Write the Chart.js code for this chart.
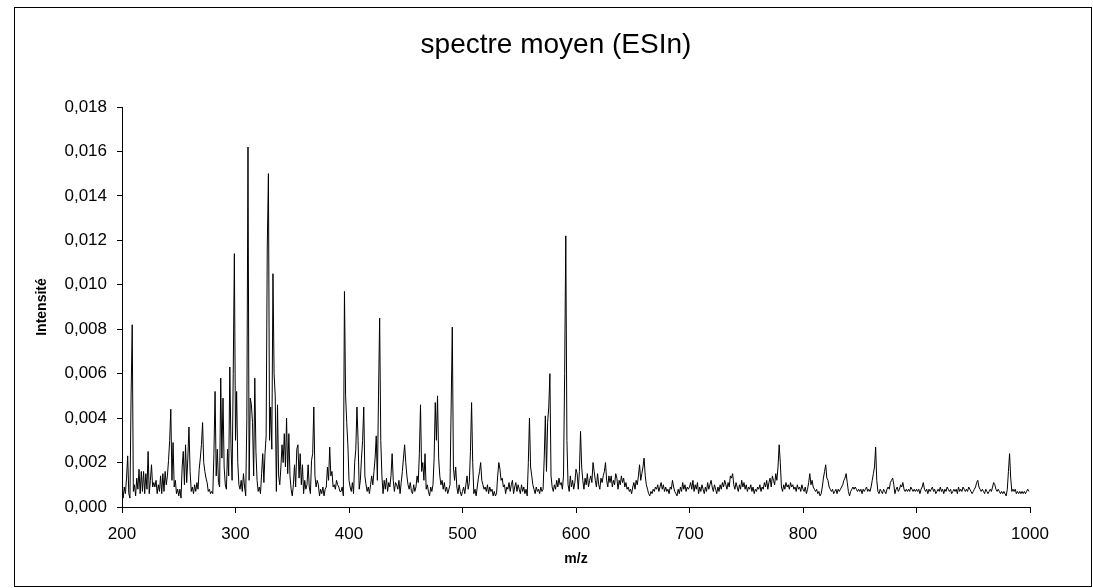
<!DOCTYPE html>
<html>
<head>
<meta charset="utf-8">
<script src="https://cdn.jsdelivr.net/npm/chart.js@4.4.0/dist/chart.umd.min.js"></script>
<style>
html,body{margin:0;padding:0;background:#ffffff;}
canvas{display:block;}
</style>
</head>
<body>
<canvas id="c" width="1093" height="588"></canvas>
<script>
const FONT = '"Liberation Sans", Arial, Helvetica, sans-serif';
const chartTitle = 'spectre moyen (ESIn)';
const xAxisTitle = 'm/z';
const yAxisTitle = 'Intensité';
const xTickValues = [200, 300, 400, 500, 600, 700, 800, 900, 1000];
const yTickValues = [0, 0.002, 0.004, 0.006, 0.008, 0.010, 0.012, 0.014, 0.016, 0.018];

// m/z grid: one value per unit, starting at 200
const mzStart = 200;
// intensities, in units of 0.0001
const unit = 0.0001;
const seg200 = [
  7, 4, 9, 6, 13, 23, 6, 4, 50, 82,
  7, 10, 5, 13, 8, 17, 6, 16, 7, 16,
  6, 15, 8, 25, 6, 12, 19, 9, 11, 9,
  12, 6, 10, 7, 14, 6, 15, 7, 16, 10,
  14, 21, 30, 44, 12, 29, 9, 12, 6, 8,
  5, 8, 4, 18, 25, 10, 28, 11, 22, 36,
  16, 7, 9, 6, 10, 7, 11, 8, 17, 22,
  28, 38, 20, 16, 13, 11, 7, 8, 6, 7,
  6, 24, 52, 14, 26, 11, 9, 58, 22, 49,
  18, 10, 8, 26, 14, 63, 28, 12, 60, 114
];
const seg300 = [
  30, 52, 20, 10, 8, 12, 7, 15, 9, 5,
  40, 162, 12, 49, 46, 38, 14, 58, 25, 12,
  7, 9, 6, 15, 24, 11, 24, 32, 117, 150,
  30, 45, 26, 105, 60, 50, 7, 46, 14, 10,
  18, 28, 20, 33, 18, 40, 15, 33, 14, 8,
  5, 10, 19, 9, 26, 28, 13, 24, 10, 19,
  6, 12, 8, 10, 19, 9, 6, 21, 24, 45,
  14, 9, 12, 10, 5, 8, 6, 9, 5, 8,
  9, 18, 12, 27, 14, 16, 9, 10, 8, 12,
  10, 9, 7, 7, 9, 5, 97, 50, 38, 28
];
const seg400 = [
  12, 9, 7, 11, 6, 20, 26, 45, 30, 8,
  12, 22, 30, 45, 14, 10, 7, 9, 6, 10,
  14, 10, 16, 22, 32, 12, 50, 85, 30, 14,
  6, 12, 8, 13, 7, 11, 9, 14, 24, 12,
  7, 11, 10, 8, 12, 6, 11, 16, 22, 28,
  20, 14, 10, 8, 11, 7, 6, 10, 7, 9,
  14, 11, 24, 46, 16, 20, 12, 24, 8, 10,
  7, 5, 9, 7, 10, 22, 47, 30, 50, 22,
  14, 10, 12, 8, 11, 7, 9, 6, 8, 10,
  45, 81, 18, 12, 18, 9, 6, 10, 7, 5
];
const seg500 = [
  7, 9, 6, 10, 14, 8, 11, 25, 47, 20,
  6, 8, 5, 9, 13, 16, 20, 12, 10, 8,
  9, 7, 10, 6, 9, 7, 8, 5, 7, 5,
  6, 14, 20, 17, 12, 13, 9, 10, 6, 9,
  8, 11, 7, 10, 12, 6, 9, 11, 7, 10,
  8, 6, 10, 7, 9, 6, 8, 5, 20, 40,
  18, 14, 10, 8, 6, 9, 7, 8, 6, 9,
  7, 8, 22, 41, 16, 38, 45, 60, 14, 9,
  7, 10, 8, 12, 9, 13, 10, 11, 8, 14,
  60, 122, 30, 10, 7, 14, 9, 12, 8, 11
];
const seg600 = [
  17, 15, 8, 16, 34, 18, 12, 8, 13, 10,
  15, 9, 12, 14, 11, 20, 16, 12, 9, 15,
  10, 8, 13, 11, 14, 16, 20, 12, 9, 14,
  11, 14, 9, 12, 10, 15, 13, 8, 12, 10,
  14, 11, 13, 9, 11, 8, 9, 7, 8, 6,
  9, 11, 8, 12, 10, 14, 19, 12, 15, 18,
  22, 14, 10, 8, 6, 5, 7, 6, 8, 7,
  9, 8, 10, 7, 9, 11, 8, 10, 7, 9,
  7, 8, 6, 9, 8, 12, 9, 7, 6, 5,
  8, 6, 9, 7, 11, 8, 10, 7, 9, 8
];
const seg700 = [
  9, 11, 8, 12, 7, 10, 8, 11, 6, 9,
  7, 10, 8, 6, 9, 7, 11, 8, 10, 12,
  9, 7, 10, 8, 6, 9, 7, 10, 8, 11,
  9, 12, 10, 8, 11, 9, 14, 13, 15, 10,
  8, 11, 9, 7, 10, 8, 12, 9, 11, 8,
  10, 7, 9, 8, 10, 7, 9, 6, 8, 7,
  9, 8, 10, 7, 9, 8, 11, 9, 12, 8,
  11, 13, 9, 14, 12, 10, 15, 12, 18, 28,
  20, 9, 7, 10, 8, 11, 9, 10, 8, 11,
  9, 10, 8, 9, 7, 10, 8, 9, 7, 10
];
const seg800 = [
  8, 7, 9, 6, 8, 11, 15, 10, 12, 9,
  8, 7, 8, 6, 7, 5, 6, 9, 13, 16,
  19, 13, 12, 9, 8, 7, 8, 6, 7, 8,
  6, 8, 7, 8, 9, 10, 12, 13, 15, 11,
  7, 5, 7, 8, 9, 8, 9, 8, 7, 8,
  7, 8, 6, 8, 7, 8, 9, 7, 8, 7,
  9, 12, 15, 18, 27, 12, 7, 6, 8, 7,
  6, 8, 7, 6, 8, 9, 8, 11, 12, 13,
  10, 6, 8, 9, 7, 8, 10, 9, 11, 8,
  7, 8, 7, 8, 7, 9, 8, 7, 8, 7
];
const seg900 = [
  8, 7, 8, 6, 8, 9, 11, 8, 7, 8,
  6, 8, 7, 8, 9, 7, 8, 6, 7, 8,
  7, 9, 7, 8, 6, 8, 7, 9, 8, 7,
  8, 6, 7, 8, 7, 8, 6, 9, 7, 8,
  7, 9, 8, 7, 8, 7, 9, 8, 7, 6,
  7, 8, 9, 11, 12, 9, 8, 7, 8, 7,
  6, 8, 7, 6, 7, 8, 7, 9, 11, 10,
  8, 7, 8, 7, 6, 7, 6, 7, 6, 5,
  8, 16, 24, 13, 7, 8, 7, 8, 6, 7,
  6, 7, 6, 7, 6, 7, 6, 7, 8, 7
];

const intensities = [].concat(seg200, seg300, seg400, seg500, seg600, seg700, seg800, seg900);
const points = intensities.map((v, i) => ({ x: mzStart + i, y: v * unit }));

const framePlugin = {
  id: 'frame',
  beforeDraw(chart) {
    const ctx = chart.ctx;
    ctx.save();
    ctx.fillStyle = '#ffffff';
    ctx.fillRect(0, 0, chart.width, chart.height);
    ctx.strokeStyle = '#000000';
    ctx.lineWidth = 1;
    ctx.strokeRect(14.5, 7.5, 1077, 579);
    ctx.restore();
  },
  afterDraw(chart) {
    const ctx = chart.ctx;
    ctx.save();
    ctx.fillStyle = '#000000';
    ctx.font = '28px ' + FONT;
    ctx.textAlign = 'center';
    ctx.textBaseline = 'middle';
    ctx.fillText(chartTitle, 556, 45);
    ctx.restore();
  }
};

new Chart(document.getElementById('c'), {
  type: 'line',
  data: {
    datasets: [{
      data: points,
      borderColor: '#000000',
      borderWidth: 1,
      pointRadius: 0,
      pointHoverRadius: 0,
      tension: 0,
      fill: false
    }]
  },
  options: {
    responsive: false,
    animation: false,
    events: [],
    layout: { padding: { left: 14, right: 63, top: 107, bottom: 8 } },
    plugins: {
      legend: { display: false },
      title: { display: false },
      tooltip: { enabled: false }
    },
    scales: {
      x: {
        type: 'linear',
        min: 200,
        max: 1000,
        afterBuildTicks: s => { s.ticks = xTickValues.map(v => ({ value: v })); },
        afterFit: s => { s.height = 73; },
        ticks: {
          font: { family: FONT, size: 17 },
          color: '#000000',
          padding: 11,
          maxRotation: 0,
          autoSkip: false,
          callback: v => String(v)
        },
        grid: { drawOnChartArea: false, drawTicks: true, tickLength: 6, color: '#000000' },
        border: { color: '#000000', width: 1 },
        title: {
          display: true,
          text: xAxisTitle,
          color: '#000000',
          font: { family: FONT, size: 14, weight: 'bold' },
          padding: { top: 0, bottom: 12 }
        }
      },
      y: {
        type: 'linear',
        min: 0,
        max: 0.018,
        afterBuildTicks: s => { s.ticks = yTickValues.map(v => ({ value: v })); },
        afterFit: s => { s.width = 108; },
        ticks: {
          font: { family: FONT, size: 17 },
          color: '#000000',
          padding: 10,
          callback: v => Number(v).toFixed(3).replace('.', ',')
        },
        grid: { drawOnChartArea: false, drawTicks: true, tickLength: 5, color: '#000000' },
        border: { color: '#000000', width: 1 },
        title: {
          display: true,
          text: yAxisTitle,
          color: '#000000',
          font: { family: FONT, size: 14, weight: 'bold' },
          padding: { top: 20, bottom: 0 }
        }
      }
    }
  },
  plugins: [framePlugin]
});
</script>
</body>
</html>
